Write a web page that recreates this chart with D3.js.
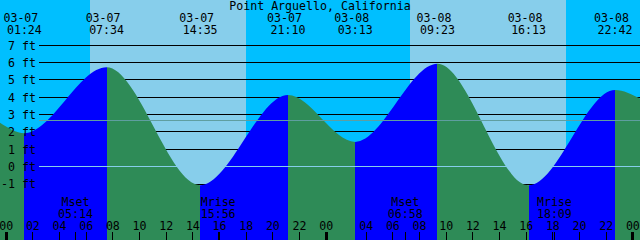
<!DOCTYPE html>
<html lang="en">
<head>
  <meta charset="UTF-8">
  <title>Point Arguello, California</title>
  <style>
    body {
      margin: 0;
      padding: 0;
      background: #fff;
    }

    svg text {
      font-family: 'DejaVu Sans Mono', monospace;
      font-size: 11.6px;
      fill: #000;
    }

    .crisp line {
      shape-rendering: crispEdges;
    }
  </style>
</head>
<body>
  <svg id="tide-chart" width="640" height="240"></svg>
  <script src="https://d3js.org/d3.v7.min.js"></script>
  <script>
    // 48 hours shown; clocks go to PDT early on 03-08
    const chartStart = '2009-03-06T23:34:20-08:00';
    const chartEnd = '2009-03-09T00:34:20-07:00';

    // highs and lows (local time) and heights in ft
    const eventTimes = [
      '2009-03-07T01:24-08:00', '2009-03-07T07:34-08:00', '2009-03-07T14:35-08:00', '2009-03-07T21:10-08:00',
      '2009-03-08T03:13-07:00', '2009-03-08T09:23-07:00', '2009-03-08T16:13-07:00', '2009-03-08T22:42-07:00'
    ];
    const eventHeights = [1.9, 5.7, -1.1, 4.1, 1.4, 5.9, -1.1, 4.4];
    // water level where the curve meets the left and right edges
    const edgeHeights = [2.5, 3.9];

    const sunTimes = [
      '2009-03-07T06:19-08:00', '2009-03-07T18:01-08:00',
      '2009-03-08T07:19-07:00', '2009-03-08T19:02-07:00'
    ];

    const moonNames = ['Mset', 'Mrise', 'Mset', 'Mrise'];
    const moonTimes = [
      '2009-03-07T05:14-08:00', '2009-03-07T15:56-08:00',
      '2009-03-08T06:58-07:00', '2009-03-08T18:09-07:00'
    ];

    const hourTicks = [
      '2009-03-07T00:00-08:00', '2009-03-07T02:00-08:00', '2009-03-07T04:00-08:00', '2009-03-07T06:00-08:00',
      '2009-03-07T08:00-08:00', '2009-03-07T10:00-08:00', '2009-03-07T12:00-08:00', '2009-03-07T14:00-08:00',
      '2009-03-07T16:00-08:00', '2009-03-07T18:00-08:00', '2009-03-07T20:00-08:00', '2009-03-07T22:00-08:00',
      '2009-03-08T00:00-08:00', '2009-03-08T04:00-07:00', '2009-03-08T06:00-07:00', '2009-03-08T08:00-07:00',
      '2009-03-08T10:00-07:00', '2009-03-08T12:00-07:00', '2009-03-08T14:00-07:00', '2009-03-08T16:00-07:00',
      '2009-03-08T18:00-07:00', '2009-03-08T20:00-07:00', '2009-03-08T22:00-07:00', '2009-03-09T00:00-07:00'
    ];

    const ftTicks = [-1, 0, 1, 2, 3, 4, 5, 6, 7];
    const datumLevel = 0;
    const mslLevel = 2.65;
    const title = 'Point Arguello, California';

    const width = 640;
    const height = 240;
    const gridLeft = 39;

    const nightColor = '#00bfff';
    const dayColor = '#87ceeb';
    const riseColor = '#0000ff';
    const fallColor = '#2e8b57';

    const svg = d3.select('#tide-chart');

    const xScale = d3.scaleTime()
      .domain([new Date(chartStart), new Date(chartEnd)])
      .range([0, width]);

    const yScale = d3.scaleLinear()
      .domain([-1, 7])
      .range([183.5, 44.8]);

    const localDate = s => s.slice(5, 10);
    const localTime = s => s.slice(11, 16);

    // Sky: day / night
    const sunEdges = [chartStart, ...sunTimes, chartEnd].map(s => new Date(s));
    svg.append('g')
      .selectAll('rect')
      .data(d3.pairs(sunEdges))
      .enter()
      .append('rect')
      .attr('x', d => xScale(d[0]))
      .attr('y', 0)
      .attr('width', d => xScale(d[1]) - xScale(d[0]))
      .attr('height', height)
      .attr('fill', (d, i) => i % 2 === 0 ? nightColor : dayColor)
      .attr('shape-rendering', 'crispEdges');

    // Foot lines behind the water
    const grid = svg.append('g')
      .attr('class', 'crisp')
      .attr('transform', `translate(${gridLeft}, 0)`)
      .call(d3.axisLeft(yScale)
        .tickValues(ftTicks)
        .tickSizeInner(-(width - gridLeft))
        .tickSizeOuter(0)
        .tickFormat(''));
    grid.select('.domain').remove();
    grid.selectAll('line').attr('stroke', '#000');

    // Water
    const curveTimes = [chartStart, ...eventTimes, chartEnd].map(s => new Date(s));
    const curveHeights = [edgeHeights[0], ...eventHeights, edgeHeights[1]];
    const tide = curveTimes.map((t, i) => ({ time: t, ft: curveHeights[i] }));

    const area = d3.area()
      .x(d => xScale(d.time))
      .y0(height)
      .y1(d => yScale(d.ft))
      .curve(d3.curveMonotoneX);

    svg.append('clipPath')
      .attr('id', 'water')
      .append('path')
      .datum(tide)
      .attr('d', area);

    svg.append('g')
      .attr('clip-path', 'url(#water)')
      .selectAll('rect')
      .data(d3.pairs(tide))
      .enter()
      .append('rect')
      .attr('x', d => xScale(d[0].time))
      .attr('y', 0)
      .attr('width', d => xScale(d[1].time) - xScale(d[0].time))
      .attr('height', height)
      .attr('fill', d => d[1].ft > d[0].ft ? riseColor : fallColor)
      .attr('shape-rendering', 'crispEdges');

    // Datum and mean sea level lines
    svg.append('g')
      .attr('class', 'crisp')
      .selectAll('line')
      .data([
        { level: datumLevel, color: '#87ceeb' },
        { level: mslLevel, color: '#5f9ea0' }
      ])
      .enter()
      .append('line')
      .attr('x1', gridLeft)
      .attr('x2', width)
      .attr('y1', d => yScale(d.level))
      .attr('y2', d => yScale(d.level))
      .attr('stroke', d => d.color);

    // Foot labels
    const ftLabels = svg.append('g')
      .attr('transform', `translate(${gridLeft}, 0)`)
      .call(d3.axisLeft(yScale)
        .tickValues(ftTicks)
        .tickSize(0)
        .tickPadding(3)
        .tickFormat(d => d + ' ft'));
    ftLabels.select('.domain').remove();
    ftLabels.selectAll('line').remove();
    ftLabels.selectAll('text').attr('dy', '0.38em');

    // High / low times
    const events = svg.append('g')
      .selectAll('g')
      .data(eventTimes)
      .enter()
      .append('g')
      .attr('transform', d => `translate(${xScale(new Date(d))}, 0)`);

    events.append('text')
      .attr('x', -3.5)
      .attr('y', 21.5)
      .attr('text-anchor', 'middle')
      .text(d => localDate(d));

    events.append('text')
      .attr('y', 34)
      .attr('text-anchor', 'middle')
      .text(d => localTime(d));

    // Title
    svg.append('text')
      .attr('x', width / 2)
      .attr('y', 10)
      .attr('text-anchor', 'middle')
      .text(title);

    // Moon rise / set
    const moon = svg.append('g')
      .selectAll('g')
      .data(moonTimes)
      .enter()
      .append('g')
      .attr('transform', d => `translate(${xScale(new Date(d))}, 0)`);

    moon.append('text')
      .attr('y', 206)
      .attr('text-anchor', 'middle')
      .text((d, i) => moonNames[i]);

    moon.append('text')
      .attr('y', 218)
      .attr('text-anchor', 'middle')
      .text(d => localTime(d));

    const moonAxis = svg.append('g')
      .attr('class', 'crisp')
      .attr('transform', `translate(0, ${height})`)
      .call(d3.axisTop(xScale)
        .tickValues(moonTimes.map(s => new Date(s)))
        .tickSize(8)
        .tickFormat(''));
    moonAxis.select('.domain').remove();

    // Hour axis
    const hourLabels = hourTicks.map(s => s.slice(11, 13));
    const hourAxis = svg.append('g')
      .attr('class', 'crisp')
      .attr('transform', `translate(0, ${height})`)
      .call(d3.axisTop(xScale)
        .tickValues(hourTicks.map(s => new Date(s)))
        .tickSize(8)
        .tickPadding(2.5)
        .tickFormat((d, i) => hourLabels[i]));
    hourAxis.select('.domain').remove();
    hourAxis.selectAll('.tick line')
      .attr('stroke', '#000')
      .attr('stroke-width', (d, i) => hourLabels[i] === '00' ? 3 : 1);
  </script>
</body>
</html>
